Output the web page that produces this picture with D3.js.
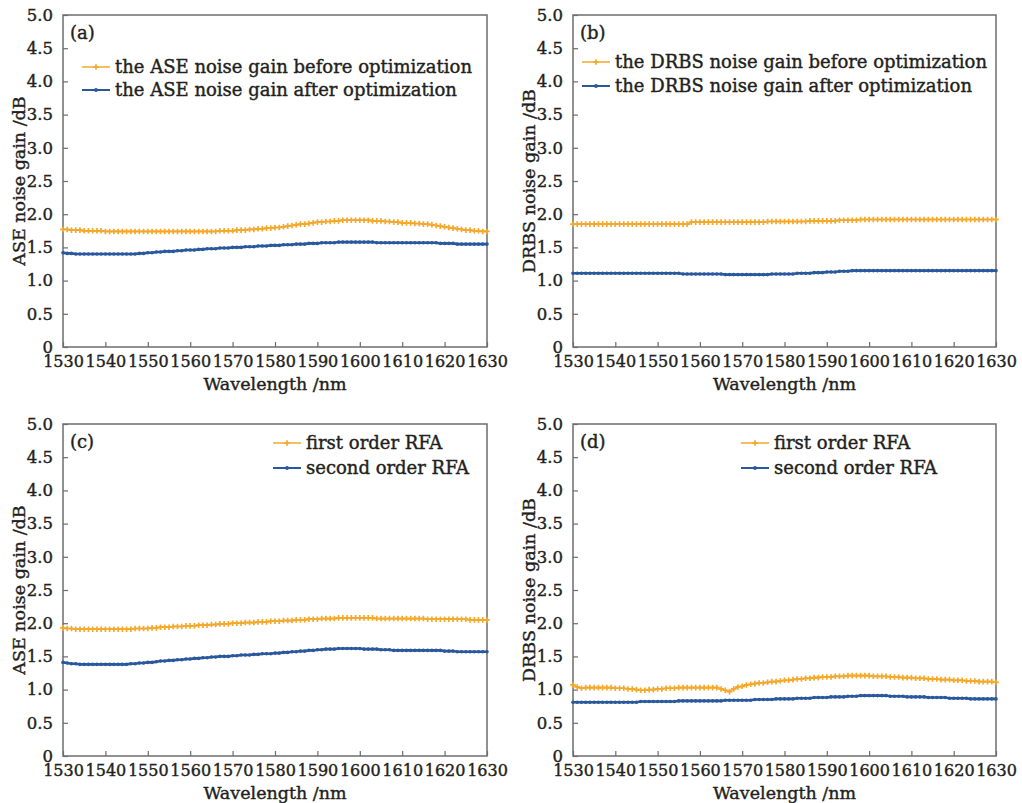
<!DOCTYPE html>
<html>
<head>
<meta charset="utf-8">
<script src="https://cdn.jsdelivr.net/npm/d3@7/dist/d3.min.js"></script>
<style>
  html, body { margin: 0; padding: 0; background: #fff; }
  svg { display: block; }
  text { font-family: "DejaVu Serif", "Liberation Serif", serif; fill: #231f20; stroke: #231f20; stroke-width: 0.4px; }
</style>
</head>
<body>
<svg id="chart" width="1022" height="803"></svg>
<script>
// Wavelength grid, 1 nm steps
const wavelengths = d3.range(1530, 1631);
const xTicks = [1530, 1540, 1550, 1560, 1570, 1580, 1590, 1600, 1610, 1620, 1630];
const yTicks = [0, 0.5, 1.0, 1.5, 2.0, 2.5, 3.0, 3.5, 4.0, 4.5, 5.0];

// (a) ASE noise gain before / after optimization
const aseBefore = [
  1.77, 1.77, 1.76, 1.76, 1.76, 1.75, 1.75, 1.75, 1.75, 1.75,
  1.74, 1.74, 1.74, 1.74, 1.74, 1.74, 1.74, 1.74, 1.74, 1.74,
  1.74, 1.74, 1.74, 1.74, 1.74, 1.74, 1.74, 1.74, 1.74, 1.74,
  1.74, 1.74, 1.74, 1.74, 1.74, 1.74, 1.74, 1.75, 1.75, 1.75,
  1.75, 1.76, 1.76, 1.76, 1.77, 1.77, 1.78, 1.78, 1.79, 1.79,
  1.80, 1.80, 1.81, 1.82, 1.83, 1.84, 1.85, 1.85, 1.86, 1.87,
  1.88, 1.88, 1.89, 1.89, 1.90, 1.90, 1.91, 1.91, 1.91, 1.91,
  1.91, 1.91, 1.91, 1.90, 1.90, 1.90, 1.89, 1.89, 1.88, 1.88,
  1.87, 1.87, 1.87, 1.86, 1.86, 1.85, 1.85, 1.84, 1.83, 1.82,
  1.81, 1.80, 1.79, 1.78, 1.77, 1.76, 1.76, 1.75, 1.75, 1.74,
  1.74
];
const aseAfter = [
  1.42, 1.41, 1.41, 1.40, 1.40, 1.40, 1.40, 1.40, 1.40, 1.40,
  1.40, 1.40, 1.40, 1.40, 1.40, 1.40, 1.40, 1.40, 1.41, 1.41,
  1.42, 1.42, 1.43, 1.43, 1.44, 1.44, 1.44, 1.45, 1.45, 1.46,
  1.46, 1.46, 1.47, 1.47, 1.48, 1.48, 1.48, 1.49, 1.49, 1.49,
  1.50, 1.50, 1.50, 1.51, 1.51, 1.51, 1.52, 1.52, 1.52, 1.53,
  1.53, 1.53, 1.54, 1.54, 1.54, 1.55, 1.55, 1.55, 1.56, 1.56,
  1.56, 1.57, 1.57, 1.57, 1.57, 1.58, 1.58, 1.58, 1.58, 1.58,
  1.58, 1.58, 1.58, 1.58, 1.57, 1.57, 1.57, 1.57, 1.57, 1.57,
  1.57, 1.57, 1.57, 1.57, 1.57, 1.57, 1.57, 1.57, 1.57, 1.56,
  1.56, 1.56, 1.56, 1.55, 1.55, 1.55, 1.55, 1.55, 1.55, 1.55,
  1.55
];

// (b) DRBS noise gain before / after optimization
const drbsBefore = [
  1.85, 1.85, 1.85, 1.85, 1.85, 1.85, 1.85, 1.85, 1.85, 1.85,
  1.85, 1.85, 1.85, 1.85, 1.85, 1.85, 1.85, 1.85, 1.85, 1.85,
  1.85, 1.85, 1.85, 1.85, 1.85, 1.85, 1.85, 1.85, 1.88, 1.88,
  1.88, 1.88, 1.88, 1.88, 1.88, 1.88, 1.88, 1.88, 1.88, 1.88,
  1.88, 1.88, 1.88, 1.88, 1.88, 1.88, 1.89, 1.89, 1.89, 1.89,
  1.89, 1.89, 1.89, 1.89, 1.89, 1.89, 1.90, 1.90, 1.90, 1.90,
  1.90, 1.90, 1.90, 1.91, 1.91, 1.91, 1.91, 1.91, 1.92, 1.92,
  1.92, 1.92, 1.92, 1.92, 1.92, 1.92, 1.92, 1.92, 1.92, 1.92,
  1.92, 1.92, 1.92, 1.92, 1.92, 1.92, 1.92, 1.92, 1.92, 1.92,
  1.92, 1.92, 1.92, 1.92, 1.92, 1.92, 1.92, 1.92, 1.92, 1.92,
  1.92
];
const drbsAfter = [
  1.11, 1.11, 1.11, 1.11, 1.11, 1.11, 1.11, 1.11, 1.11, 1.11,
  1.11, 1.11, 1.11, 1.11, 1.11, 1.11, 1.11, 1.11, 1.11, 1.11,
  1.11, 1.11, 1.11, 1.11, 1.11, 1.11, 1.10, 1.10, 1.10, 1.10,
  1.10, 1.10, 1.10, 1.10, 1.10, 1.10, 1.09, 1.09, 1.09, 1.09,
  1.09, 1.09, 1.09, 1.09, 1.09, 1.09, 1.09, 1.10, 1.10, 1.10,
  1.10, 1.10, 1.10, 1.11, 1.11, 1.11, 1.11, 1.12, 1.12, 1.12,
  1.13, 1.13, 1.13, 1.14, 1.14, 1.14, 1.15, 1.15, 1.15, 1.15,
  1.15, 1.15, 1.15, 1.15, 1.15, 1.15, 1.15, 1.15, 1.15, 1.15,
  1.15, 1.15, 1.15, 1.15, 1.15, 1.15, 1.15, 1.15, 1.15, 1.15,
  1.15, 1.15, 1.15, 1.15, 1.15, 1.15, 1.15, 1.15, 1.15, 1.15,
  1.15
];

// (c) ASE noise gain, first / second order RFA
const aseFirst = [
  1.93, 1.92, 1.92, 1.91, 1.91, 1.91, 1.91, 1.91, 1.91, 1.91,
  1.91, 1.91, 1.91, 1.91, 1.91, 1.91, 1.91, 1.92, 1.92, 1.92,
  1.92, 1.93, 1.93, 1.94, 1.94, 1.94, 1.95, 1.95, 1.95, 1.96,
  1.96, 1.96, 1.97, 1.97, 1.97, 1.98, 1.98, 1.99, 1.99, 1.99,
  2.00, 2.00, 2.00, 2.01, 2.01, 2.01, 2.02, 2.02, 2.02, 2.03,
  2.03, 2.03, 2.04, 2.04, 2.04, 2.05, 2.05, 2.05, 2.06, 2.06,
  2.06, 2.07, 2.07, 2.07, 2.07, 2.08, 2.08, 2.08, 2.08, 2.08,
  2.08, 2.08, 2.08, 2.08, 2.07, 2.07, 2.07, 2.07, 2.07, 2.07,
  2.07, 2.07, 2.07, 2.07, 2.07, 2.07, 2.06, 2.06, 2.06, 2.06,
  2.06, 2.06, 2.06, 2.06, 2.06, 2.06, 2.05, 2.05, 2.05, 2.05,
  2.05
];
const aseSecond = [
  1.41, 1.40, 1.39, 1.39, 1.38, 1.38, 1.38, 1.38, 1.38, 1.38,
  1.38, 1.38, 1.38, 1.38, 1.38, 1.38, 1.39, 1.39, 1.40, 1.40,
  1.41, 1.41, 1.42, 1.43, 1.43, 1.44, 1.44, 1.45, 1.45, 1.46,
  1.46, 1.47, 1.47, 1.48, 1.48, 1.49, 1.49, 1.50, 1.50, 1.50,
  1.51, 1.51, 1.52, 1.52, 1.52, 1.53, 1.53, 1.54, 1.54, 1.54,
  1.55, 1.55, 1.56, 1.56, 1.57, 1.57, 1.58, 1.58, 1.59, 1.59,
  1.60, 1.60, 1.61, 1.61, 1.61, 1.62, 1.62, 1.62, 1.62, 1.62,
  1.62, 1.61, 1.61, 1.61, 1.61, 1.60, 1.60, 1.60, 1.59, 1.59,
  1.59, 1.59, 1.59, 1.59, 1.59, 1.59, 1.59, 1.59, 1.59, 1.59,
  1.58, 1.58, 1.58, 1.57, 1.57, 1.57, 1.57, 1.57, 1.57, 1.57,
  1.57
];

// (d) DRBS noise gain, first / second order RFA
const drbsFirst = [
  1.07, 1.04, 1.02, 1.03, 1.03, 1.03, 1.03, 1.03, 1.03, 1.03,
  1.02, 1.02, 1.02, 1.01, 1.01, 1.00, 0.99, 0.99, 1.00, 1.00,
  1.01, 1.01, 1.02, 1.02, 1.02, 1.03, 1.03, 1.03, 1.03, 1.03,
  1.03, 1.03, 1.03, 1.03, 1.03, 1.01, 0.99, 0.97, 1.01, 1.04,
  1.05, 1.07, 1.08, 1.09, 1.10, 1.10, 1.11, 1.12, 1.12, 1.13,
  1.14, 1.14, 1.15, 1.16, 1.16, 1.17, 1.17, 1.18, 1.18, 1.19,
  1.19, 1.19, 1.20, 1.20, 1.20, 1.21, 1.21, 1.21, 1.21, 1.21,
  1.21, 1.20, 1.20, 1.20, 1.20, 1.19, 1.19, 1.19, 1.18, 1.18,
  1.18, 1.17, 1.17, 1.17, 1.16, 1.16, 1.16, 1.15, 1.15, 1.15,
  1.14, 1.14, 1.14, 1.13, 1.13, 1.13, 1.12, 1.12, 1.12, 1.12,
  1.11
];
const drbsSecond = [
  0.81, 0.81, 0.81, 0.81, 0.81, 0.81, 0.81, 0.81, 0.81, 0.81,
  0.81, 0.81, 0.81, 0.81, 0.81, 0.81, 0.82, 0.82, 0.82, 0.82,
  0.82, 0.82, 0.82, 0.82, 0.82, 0.83, 0.83, 0.83, 0.83, 0.83,
  0.83, 0.83, 0.83, 0.83, 0.83, 0.83, 0.84, 0.84, 0.84, 0.84,
  0.84, 0.84, 0.84, 0.85, 0.85, 0.85, 0.85, 0.85, 0.86, 0.86,
  0.86, 0.86, 0.86, 0.87, 0.87, 0.87, 0.87, 0.88, 0.88, 0.88,
  0.88, 0.89, 0.89, 0.89, 0.89, 0.90, 0.90, 0.90, 0.91, 0.91,
  0.91, 0.91, 0.91, 0.91, 0.91, 0.90, 0.90, 0.90, 0.90, 0.89,
  0.89, 0.89, 0.89, 0.89, 0.88, 0.88, 0.88, 0.88, 0.88, 0.87,
  0.87, 0.87, 0.87, 0.87, 0.86, 0.86, 0.86, 0.86, 0.86, 0.86,
  0.86
];

const panelTags = ["(a)", "(b)", "(c)", "(d)"];
const yTitles = ["ASE noise gain /dB", "DRBS noise gain /dB", "ASE noise gain /dB", "DRBS noise gain /dB"];
const xTitle = "Wavelength /nm";
const legendA = ["the ASE noise gain before optimization", "the ASE noise gain after optimization"];
const legendB = ["the DRBS noise gain before optimization", "the DRBS noise gain after optimization"];
const legendC = ["first order RFA", "second order RFA"];
const legendD = ["first order RFA", "second order RFA"];

const ORANGE = "#f5a829";
const BLUE = "#2a589c";
const FRAME = "#6d6d6d";

const svg = d3.select("#chart");
svg.append("rect").attr("width", 1022).attr("height", 803).attr("fill", "#fff");

const panels = [
  { box: [63, 15, 487, 347], tag: panelTags[0], yTitle: yTitles[0], series: [aseBefore, aseAfter], legend: legendA, leg: { x: 82, y: 67, gap: 23 } },
  { box: [573, 15, 996, 347], tag: panelTags[1], yTitle: yTitles[1], series: [drbsBefore, drbsAfter], legend: legendB, leg: { x: 582, y: 62, gap: 24 } },
  { box: [63, 424, 487, 756], tag: panelTags[2], yTitle: yTitles[2], series: [aseFirst, aseSecond], legend: legendC, leg: { x: 273, y: 443, gap: 25 } },
  { box: [573, 424, 996, 756], tag: panelTags[3], yTitle: yTitles[3], series: [drbsFirst, drbsSecond], legend: legendD, leg: { x: 741, y: 443, gap: 25 } }
];

function plusMarker(g, x, y, s) {
  g.append("path")
    .attr("d", `M${x - s},${y}H${x + s}M${x},${y - s}V${y + s}`)
    .attr("stroke", ORANGE).attr("stroke-width", 1.7).attr("fill", "none");
}

panels.forEach(p => {
  const [x0, y0, x1, y1] = p.box;
  const x = d3.scaleLinear().domain([1530, 1630]).range([x0, x1]);
  const y = d3.scaleLinear().domain([0, 5]).range([y1, y0]);
  const g = svg.append("g");

  // x axis: ticks point into the plot
  const xAxis = d3.axisBottom(x).tickValues(xTicks).tickFormat(d3.format("d")).tickSizeInner(-5).tickSizeOuter(0).tickPadding(9);
  const gx = g.append("g").attr("transform", `translate(0,${y1})`).call(xAxis);
  gx.select(".domain").remove();
  gx.selectAll(".tick line").attr("stroke", FRAME).attr("stroke-width", 1.2);
  gx.selectAll(".tick text").attr("font-size", 16).attr("font-family", "DejaVu Serif").attr("fill", "#231f20");

  const yAxis = d3.axisLeft(y).tickValues(yTicks).tickFormat(d => d === 0 ? "0" : d3.format(".1f")(d)).tickSizeInner(-5).tickSizeOuter(0).tickPadding(10);
  const gy = g.append("g").attr("transform", `translate(${x0},0)`).call(yAxis);
  gy.select(".domain").remove();
  gy.selectAll(".tick line").attr("stroke", FRAME).attr("stroke-width", 1.2);
  gy.selectAll(".tick text").attr("font-size", 16.5).attr("font-family", "DejaVu Serif").attr("fill", "#231f20");

  // frame
  g.append("rect").attr("x", x0).attr("y", y0).attr("width", x1 - x0).attr("height", y1 - y0)
    .attr("fill", "none").attr("stroke", FRAME).attr("stroke-width", 1.5);

  // axis titles
  g.append("text").attr("x", (x0 + x1) / 2).attr("y", y1 + 43).attr("text-anchor", "middle")
    .attr("font-size", 17.5).text(xTitle);
  g.append("text").attr("transform", `translate(${x0 - 38},${(y0 + y1) / 2}) rotate(-90)`)
    .attr("text-anchor", "middle").attr("font-size", 17.5).text(p.yTitle);

  // panel tag
  g.append("text").attr("x", x0 + 7).attr("y", y0 + 24).attr("font-size", 18).text(p.tag);

  // series
  const line = d3.line().x((d, i) => x(wavelengths[i])).y(d => y(d));
  const [s1, s2] = p.series;
  g.append("path").datum(s1).attr("d", line).attr("fill", "none").attr("stroke", ORANGE).attr("stroke-width", 1.6);
  s1.forEach((v, i) => plusMarker(g, x(wavelengths[i]), y(v), 2.8));
  g.append("path").datum(s2).attr("d", line).attr("fill", "none").attr("stroke", BLUE).attr("stroke-width", 2.6);
  g.selectAll(null).data(s2).enter().append("circle")
    .attr("cx", (d, i) => x(wavelengths[i])).attr("cy", d => y(d)).attr("r", 1.8).attr("fill", BLUE);

  // legend
  const L = p.leg;
  [0, 1].forEach(k => {
    const ly = L.y + k * L.gap;
    const col = k === 0 ? ORANGE : BLUE;
    g.append("line").attr("x1", L.x).attr("x2", L.x + 28).attr("y1", ly).attr("y2", ly)
      .attr("stroke", col).attr("stroke-width", k === 0 ? 1.5 : 2);
    if (k === 0) plusMarker(g, L.x + 14, ly, 2.8);
    else g.append("circle").attr("cx", L.x + 14).attr("cy", ly).attr("r", 1.9).attr("fill", BLUE);
    g.append("text").attr("x", L.x + 33).attr("y", ly + 6).attr("font-size", 18).text(p.legend[k]);
  });
});
</script>
</body>
</html>
